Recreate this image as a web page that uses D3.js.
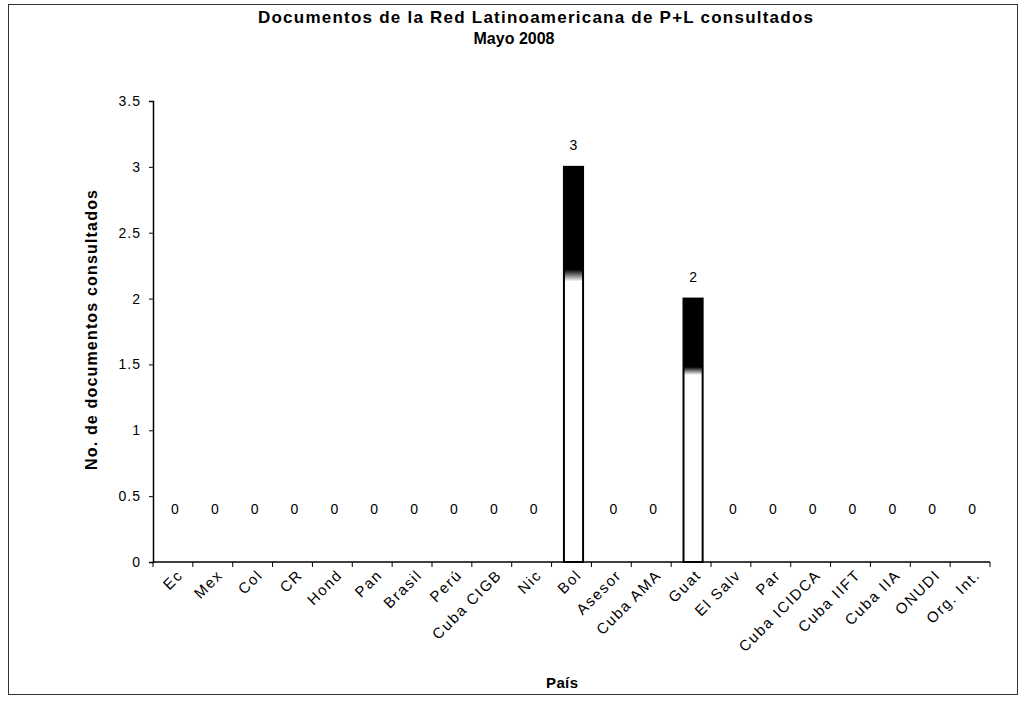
<!DOCTYPE html>
<html><head><meta charset="utf-8">
<script src="https://cdn.jsdelivr.net/npm/d3@7"></script>
<style>body{margin:0;background:#fff}svg{display:block}text{font-family:Arial,"Liberation Sans",sans-serif;fill:#000}</style>
</head><body><svg id="c" width="1024" height="701"></svg>
<script>
const categories = ["Ec","Mex","Col","CR","Hond","Pan","Brasil","Perú","Cuba CIGB","Nic","Bol","Asesor","Cuba AMA","Guat","El Salv","Par","Cuba ICIDCA","Cuba IIFT","Cuba IIA","ONUDI","Org. Int."];
const values = [0,0,0,0,0,0,0,0,0,0,3,0,0,2,0,0,0,0,0,0,0];
const yTicks = [0,0.5,1,1.5,2,2.5,3,3.5];
const titleLines = ["Documentos de la Red Latinoamericana de P+L consultados","Mayo 2008"];

const svg = d3.select("#c");
const m = {l:153, r:990, t:101, b:562};
const x = d3.scaleBand().domain(categories).range([m.l, m.r]).paddingInner(0.52).paddingOuter(0.26);
const xb = d3.scaleLinear().domain([0, categories.length]).range([m.l, m.r]);
const y = d3.scaleLinear().domain([0,3.5]).range([m.b, m.t]);

// frame
svg.append("rect").attr("x",8.5).attr("y",4.5).attr("width",1009).attr("height",690)
  .attr("fill","none").attr("stroke","#333").attr("stroke-width",1);

// gradient
const defs = svg.append("defs");
const g = defs.append("linearGradient").attr("id","grad").attr("x1",0).attr("y1",0).attr("x2",0).attr("y2",1);
g.append("stop").attr("offset","0%").attr("stop-color","#000");
g.append("stop").attr("offset","26%").attr("stop-color","#000");
g.append("stop").attr("offset","29%").attr("stop-color","#fff");
g.append("stop").attr("offset","100%").attr("stop-color","#fff");

// title
svg.append("text").attr("x",258).attr("y",23)
  .attr("font-size",17).attr("font-weight","bold")
  .attr("textLength",555).attr("lengthAdjust","spacing").text(titleLines[0]);
svg.append("text").attr("x",514).attr("y",44).attr("text-anchor","middle")
  .attr("font-size",16).attr("font-weight","bold").text(titleLines[1]);

// y axis
const ya = svg.append("g").attr("transform",`translate(${m.l},0)`)
  .call(d3.axisLeft(y).tickValues(yTicks).tickSize(4).tickPadding(8).tickFormat(d=>String(d)));
ya.select(".domain").attr("stroke","#000").attr("stroke-width",1.5);
ya.selectAll("text").attr("font-size",14).attr("letter-spacing","1px").attr("fill","#000")
  .attr("font-family","Arial, 'Liberation Sans', sans-serif");

// x axis line and ticks
svg.append("line").attr("x1",m.l).attr("x2",m.r).attr("y1",m.b).attr("y2",m.b).attr("stroke","#000").attr("stroke-width",1.5);
svg.append("g").selectAll("line").data(d3.range(categories.length+1)).join("line")
  .attr("x1",d=>xb(d)).attr("x2",d=>xb(d)).attr("y1",m.b).attr("y2",m.b+5).attr("stroke","#000");

// x labels
svg.append("g").selectAll("text").data(categories).join("text")
  .attr("transform",d=>`translate(${x(d)+x.bandwidth()/2+11},${m.b+14}) rotate(-45)`)
  .attr("text-anchor","end").attr("font-size",15).attr("letter-spacing","1.6px").attr("fill","#000").text(d=>d);

// bars
svg.append("g").selectAll("rect").data(values.map((v,i)=>({c:categories[i],v})).filter(d=>d.v>0)).join("rect")
  .attr("x",d=>x(d.c)+2).attr("width",x.bandwidth())
  .attr("y",d=>y(d.v)).attr("height",d=>y(0)-y(d.v))
  .attr("fill","url(#grad)").attr("stroke","#000").attr("stroke-width",2);

// data labels
svg.append("g").selectAll("text").data(values.map((v,i)=>({c:categories[i],v}))).join("text")
  .attr("x",d=>x(d.c)+x.bandwidth()/2+2).attr("y",d=>d.v>0 ? y(d.v)-17 : y(0)-48)
  .attr("text-anchor","middle").attr("font-size",14).attr("fill","#000").text(d=>d.v);

// axis titles
svg.append("text").attr("transform","translate(97,470) rotate(-90)")
  .attr("font-size",16).attr("font-weight","bold")
  .attr("textLength",280).attr("lengthAdjust","spacing").text("No. de documentos consultados");
svg.append("text").attr("x",546).attr("y",688)
  .attr("font-size",15).attr("font-weight","bold")
  .attr("textLength",32).attr("lengthAdjust","spacing").text("País");
</script></body></html>
